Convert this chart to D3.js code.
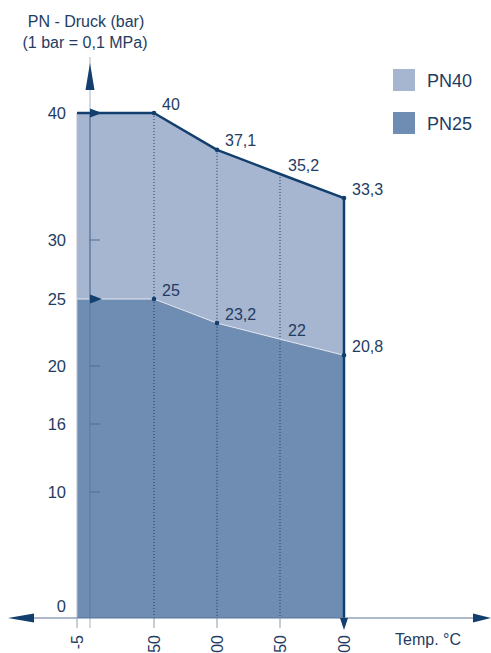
<!DOCTYPE html>
<html>
<head>
<meta charset="utf-8">
<script src="https://cdn.jsdelivr.net/npm/d3@7"></script>
<style>
  body { margin: 0; background: #fff; }
  svg { display: block; font-family: "Liberation Sans", Arial, sans-serif; }
</style>
</head>
<body>
<div id="chart"></div>
<script>
// data
const temps = [-5, 50, 100, 150, 200];
const pn40 = [40, 40, 37.1, 35.2, 33.3];
const pn25 = [25, 25, 23.2, 22, 20.8];
const yTicks = [0, 10, 16, 20, 25, 30, 40];
const xTicks = [-5, 50, 100, 150, 200];
const seriesNames = ["PN40", "PN25"];

const W = 491, H = 653;
const navy = "#123f6d", textCol = "#1f3c63";
const col40 = "#a6b5d0", col25 = "#6f8cb2";

const svg = d3.select("#chart").append("svg")
    .attr("width", W).attr("height", H);

// axis in the original is not linear, so piecewise scales
const x = d3.scaleLinear()
    .domain([-5, 0, 50, 100, 150, 200])
    .range([77, 90, 154, 217, 280, 344]);
const y = d3.scaleLinear()
    .domain(yTicks)
    .range([618, 492, 424, 366, 299, 240, 113]);

const fmt = v => String(v).replace(".", ",");
const pts40 = temps.map((t, i) => [t, pn40[i]]);
const pts25 = temps.map((t, i) => [t, pn25[i]]);
const last = temps.length - 1;

const area = d3.area()
    .x(d => x(d[0])).y0(y(0)).y1(d => y(d[1]));

svg.append("path").attr("d", area(pts40)).attr("fill", col40);
svg.append("path").attr("d", area(pts25)).attr("fill", col25);

// left edge of the fill
svg.append("line")
    .attr("x1", x(-5)).attr("x2", x(-5))
    .attr("y1", y(40)).attr("y2", y(0) + 10)
    .attr("stroke", "#b7bfcb").attr("stroke-width", 1);

// dotted verticals
svg.selectAll(".vdot")
    .data(pts40.filter(d => d[0] > 0 && d[0] < 200))
    .enter().append("line")
    .attr("x1", d => x(d[0])).attr("x2", d => x(d[0]))
    .attr("y1", d => y(d[1])).attr("y2", y(0))
    .attr("stroke", navy).attr("stroke-width", 1)
    .attr("stroke-dasharray", "1,2");

// PN25 upper edge
svg.append("path")
    .attr("d", d3.line().x(d => x(d[0])).y(d => y(d[1]))(pts25))
    .attr("fill", "none").attr("stroke", "#e4e9f1").attr("stroke-width", 1);

// y axis line
svg.append("line")
    .attr("x1", x(0)).attr("x2", x(0)).attr("y1", 57).attr("y2", y(0) + 10)
    .attr("stroke", "#a9b3c2").attr("stroke-width", 1);
svg.append("line")
    .attr("x1", x(0)).attr("x2", x(0)).attr("y1", y(40)).attr("y2", y(0))
    .attr("stroke", "#4e6d97").attr("stroke-width", 1.2);
svg.append("path")
    .attr("d", `M${x(0)},63 L${x(0) + 4.5},90 L${x(0) - 4.5},90 Z`)
    .attr("fill", navy);

// y ticks
svg.selectAll(".ytick")
    .data(yTicks.filter(v => v > 0 && v !== 40 && v !== 25))
    .enter().append("line")
    .attr("x1", x(0)).attr("x2", x(0) + 10)
    .attr("y1", d => y(d)).attr("y2", d => y(d))
    .attr("stroke", "#4e6d97").attr("stroke-width", 1);

svg.selectAll(".ylab")
    .data(yTicks)
    .enter().append("text")
    .attr("x", 66)
    .attr("y", d => d === 0 ? y(d) - 12 : y(d))
    .attr("dy", "0.35em")
    .attr("text-anchor", "end")
    .attr("font-size", 16.5)
    .attr("fill", textCol)
    .text(d => d);

// PN40 upper edge and right side
svg.append("path")
    .attr("d", d3.line().x(d => x(d[0])).y(d => y(d[1]))(
        pts40.concat([[temps[last], 0]])))
    .attr("fill", "none").attr("stroke", navy).attr("stroke-width", 2.5)
    .attr("stroke-linejoin", "round");

// right arrows on the 40 and 25 lines
svg.selectAll(".rarrow")
    .data([pn40[0], pn25[0]])
    .enter().append("path")
    .attr("d", d => `M${x(0)},${y(d) - 4.5} L${x(0) + 12},${y(d)} L${x(0)},${y(d) + 4.5} Z`)
    .attr("fill", navy);

// x axis
const ax = y(0);
svg.append("line")
    .attr("x1", 20).attr("x2", W - 10).attr("y1", ax).attr("y2", ax)
    .attr("stroke", "#5a7599").attr("stroke-width", 1);
svg.append("path")
    .attr("d", `M8,${ax} L34,${ax - 4.5} L34,${ax + 4.5} Z`).attr("fill", navy);
svg.append("path")
    .attr("d", `M${W},${ax} L473,${ax - 4.5} L473,${ax + 4.5} Z`).attr("fill", navy);

svg.selectAll(".xtick")
    .data(xTicks.filter(v => v < 200))
    .enter().append("line")
    .attr("x1", d => x(d)).attr("x2", d => x(d))
    .attr("y1", ax).attr("y2", ax + 10)
    .attr("stroke", d => d < 0 ? "#b7bfcb" : "#8a9ab0").attr("stroke-width", 1);

svg.append("path")
    .attr("d", `M${x(200) - 4},${ax} L${x(200) + 4},${ax} L${x(200)},${ax + 12} Z`)
    .attr("fill", navy);

svg.selectAll(".xlab")
    .data(xTicks)
    .enter().append("text")
    .attr("transform", d => `translate(${x(d)},635) rotate(-90)`)
    .attr("dy", "0.35em")
    .attr("text-anchor", "end")
    .attr("font-size", 16)
    .attr("fill", textCol)
    .text(d => d);

svg.append("text")
    .attr("x", 395).attr("y", 645)
    .attr("font-size", 16).attr("fill", textCol)
    .text("Temp. °C");

// point dots (no dot at 150)
const dotPts = pts40.concat(pts25).filter(d => d[0] > 0 && d[0] !== 150);
svg.selectAll(".dot")
    .data(dotPts)
    .enter().append("circle")
    .attr("cx", d => x(d[0])).attr("cy", d => y(d[1]))
    .attr("r", 2.3).attr("fill", navy);

// value labels
svg.selectAll(".vlab")
    .data(pts40.concat(pts25).filter(d => d[0] > 0))
    .enter().append("text")
    .attr("x", d => x(d[0]) + 8)
    .attr("y", d => y(d[1]) - 9)
    .attr("dy", "0.35em")
    .attr("font-size", 16)
    .attr("fill", textCol)
    .text(d => fmt(d[1]));

// title
svg.append("text")
    .attr("x", 86).attr("y", 27)
    .attr("text-anchor", "middle").attr("font-size", 16).attr("fill", textCol)
    .text("PN - Druck (bar)");
svg.append("text")
    .attr("x", 85).attr("y", 48)
    .attr("text-anchor", "middle").attr("font-size", 16).attr("fill", textCol)
    .text("(1 bar = 0,1 MPa)");

// legend
const lg = svg.selectAll(".lg")
    .data(seriesNames)
    .enter().append("g")
    .attr("transform", (d, i) => `translate(393,${69 + i * 43})`);
lg.append("rect")
    .attr("width", 22).attr("height", 22)
    .attr("fill", (d, i) => i === 0 ? col40 : col25);
lg.append("text")
    .attr("x", 34).attr("y", 12).attr("dy", "0.35em")
    .attr("font-size", 18).attr("fill", textCol)
    .text(d => d);
</script>
</body>
</html>
